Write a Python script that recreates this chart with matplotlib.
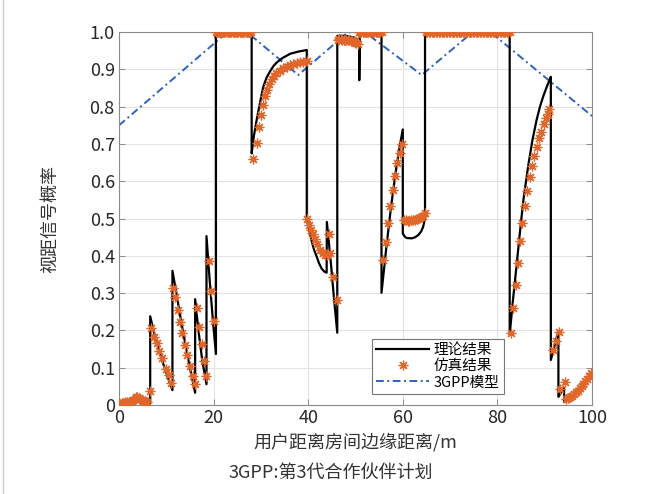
import matplotlib
matplotlib.use("Agg")
import matplotlib.pyplot as plt
from matplotlib.lines import Line2D

plt.rcParams['font.family'] = ['Noto Sans CJK SC', 'DejaVu Sans']
plt.rcParams['font.weight'] = 'light'

# ---------------- data ----------------
theory_x = [0, 1, 2, 3, 3.5, 3.8, 4.2, 5, 6, 6.6, 6.6,
            7.5, 8.5, 9.5, 10.5, 11.3, 11.3,
            12, 13, 14, 15, 16.1, 16.1,
            16.8, 17.6, 18.5, 18.5,
            19.2, 19.9, 20.5, 20.5, 28.05, 28.05,
            28.5, 29.1, 29.8, 30.5, 31.2, 31.9, 32.6, 33.3, 34.5, 36.2, 38, 39.7, 39.7,
            40.2, 40.7, 41.2, 41.8, 42.3, 42.85, 43.4, 43.9, 43.95,
            44.8, 45.5, 46.15, 46.15, 48, 49.9, 50.4, 50.8, 50.8, 50.9, 55.5, 55.5,
            56.5, 57.5, 58.5, 59.3, 60.0, 60.0,
            60.4, 60.8, 61.9, 62.6, 63.3, 63.9, 64.3, 64.6, 64.7, 64.7, 82.6, 82.6,
            83.2, 84.1, 84.9, 85.5, 86.5, 87.4, 88.3, 89.0, 89.7, 90.4, 90.9, 91.3, 91.3,
            92.1, 92.9, 92.9, 93.5, 94.1, 94.1, 95.3, 96.8, 98.2, 100]
theory_y = [0.003, 0.004, 0.006, 0.012, 0.02, 0.025, 0.02, 0.012, 0.006, 0.005, 0.238,
            0.19, 0.145, 0.105, 0.068, 0.04, 0.36,
            0.31, 0.235, 0.165, 0.10, 0.033, 0.284,
            0.2, 0.12, 0.056, 0.453,
            0.33, 0.22, 0.137, 1.0, 1.0, 0.675,
            0.72, 0.764, 0.81, 0.853, 0.878, 0.894, 0.908, 0.918, 0.93, 0.942, 0.948, 0.952, 0.5,
            0.47, 0.442, 0.418, 0.398, 0.38, 0.366, 0.358, 0.355, 0.491,
            0.38, 0.28, 0.194, 0.99, 0.99, 0.985, 0.978, 0.97, 0.871, 1.0, 1.0, 0.301,
            0.42, 0.53, 0.625, 0.69, 0.739, 0.46,
            0.452, 0.448, 0.447, 0.45, 0.456, 0.466, 0.478, 0.495, 0.51, 1.0, 1.0, 0.188,
            0.27, 0.38, 0.48, 0.55, 0.64, 0.71, 0.765, 0.8, 0.828, 0.852, 0.868, 0.88, 0.121,
            0.16, 0.199, 0.022, 0.034, 0.045, 0.008, 0.018, 0.033, 0.054, 0.09]

sim_x = [0, 0.3, 0.6, 0.9, 1.2, 1.5, 1.8, 2.1, 2.4, 2.7, 3.0, 3.3, 3.6, 3.9, 4.2, 4.5, 4.8, 5.1, 5.4, 5.7, 6.0, 6.55,
         6.77, 7.47, 7.97, 8.53, 9.02, 9.87, 10.5, 11.1,
         11.35, 11.9, 12.5, 12.96, 13.4, 13.95, 14.45, 15.0, 15.6, 16.1,
         16.4, 17.0, 17.5, 18.0, 18.5,
         18.96, 19.45, 20.1,
         20.5, 20.75, 21.0, 21.25, 21.5, 21.75, 22.0, 22.25, 22.5, 22.75, 23.0, 23.25, 23.5, 23.75,
         24.0, 24.25, 24.5, 24.75, 25.0, 25.25, 25.5, 25.75, 26.0, 26.25, 26.5, 26.75, 27.0, 27.25,
         27.5, 27.75, 28.0,
         28.4, 29.1, 29.6, 29.95, 30.5, 30.9, 31.35, 31.8, 32.3, 32.8, 33.3, 34.0, 34.7, 35.45,
         36.2, 36.85, 37.6, 38.3, 39.0, 39.7,
         39.8, 40.2, 40.6, 41.0, 41.4, 41.9, 42.5, 43.05, 43.55, 44.0, 44.6, 44.45, 45.2, 46.0,
         46.3, 46.6, 46.9, 47.2, 47.5, 47.8, 48.1, 48.4, 48.7, 49.0, 49.3, 49.6, 49.9, 50.2, 50.5,
         50.75, 51.0, 51.25, 51.5, 51.75, 52.0, 52.25, 52.5, 52.75, 53.0, 53.25, 53.5, 53.75,
         54.0, 54.25, 54.5, 54.75, 55.0, 55.25, 55.5,
         55.9, 56.4, 56.95, 57.4, 57.9, 58.35, 58.8, 59.4, 59.9,
         60.2, 60.6, 61.0, 61.4, 61.8, 62.2, 62.6, 63.0, 63.4, 63.8, 64.2, 64.6,
         64.9, 65.2, 65.5, 65.8, 66.1, 66.4, 66.7, 67.0, 67.3, 67.6, 67.9, 68.2, 68.5, 68.8,
         69.1, 69.4, 69.7, 70.0, 70.3, 70.6, 70.9, 71.2, 71.5, 71.8, 72.1, 72.4, 72.7, 73.0,
         73.3, 73.6, 73.9, 74.2, 74.5, 74.8, 75.1, 75.4, 75.7, 76.0, 76.3, 76.6, 76.9, 77.2,
         77.5, 77.8, 78.1, 78.4, 78.7, 79.0, 79.3, 79.6, 79.9, 80.2, 80.5, 80.8, 81.1, 81.4,
         81.7, 82.0, 82.3, 82.6,
         82.8, 83.2, 83.9, 84.4, 84.85, 85.3, 85.85, 86.3, 86.9, 87.4, 87.8, 88.3, 88.9, 89.3,
         89.85, 90.2, 90.6, 91.0,
         91.7, 92.4, 93.0, 93.2, 94.3,
         94.6, 95.0, 95.4, 95.8, 96.2, 96.6, 97.0, 97.4, 97.8, 98.2, 98.6, 99.0, 99.4, 99.8]
sim_y = [0.005, 0.004, 0.006, 0.005, 0.007, 0.006, 0.008, 0.007, 0.009, 0.011, 0.013, 0.017, 0.021, 0.022,
         0.019, 0.017, 0.014, 0.012, 0.010, 0.009, 0.008, 0.038,
         0.207, 0.183, 0.167, 0.146, 0.125, 0.098, 0.08, 0.06,
         0.315, 0.289, 0.256, 0.223, 0.192, 0.161, 0.134, 0.105, 0.079, 0.056,
         0.259, 0.21, 0.164, 0.119, 0.078,
         0.386, 0.306, 0.226,
         1.0, 1.0, 1.0, 1.0, 1.0, 1.0, 1.0, 1.0, 1.0, 1.0, 1.0, 1.0, 1.0, 1.0,
         1.0, 1.0, 1.0, 1.0, 1.0, 1.0, 1.0, 1.0, 1.0, 1.0, 1.0, 1.0, 1.0, 1.0,
         1.0, 1.0, 1.0,
         0.659, 0.703, 0.746, 0.779, 0.804, 0.828, 0.846, 0.862, 0.873, 0.882, 0.891, 0.897, 0.903, 0.907,
         0.911, 0.914, 0.917, 0.919, 0.921, 0.923,
         0.498, 0.483, 0.469, 0.458, 0.444, 0.432, 0.417, 0.407, 0.402, 0.402, 0.407, 0.46, 0.344, 0.283,
         0.98, 0.981, 0.981, 0.98, 0.98, 0.979, 0.979, 0.978, 0.978, 0.977, 0.976, 0.975, 0.974, 0.972, 0.968,
         1.0, 1.0, 1.0, 1.0, 1.0, 1.0, 1.0, 1.0, 1.0, 1.0, 1.0, 1.0, 1.0,
         1.0, 1.0, 1.0, 1.0, 1.0, 1.0, 1.0,
         0.389, 0.438, 0.487, 0.534, 0.578, 0.614, 0.65, 0.676, 0.701,
         0.497, 0.495, 0.494, 0.494, 0.495, 0.496, 0.497, 0.499, 0.501, 0.504, 0.508, 0.514,
         1.0, 1.0, 1.0, 1.0, 1.0, 1.0, 1.0, 1.0, 1.0, 1.0, 1.0, 1.0, 1.0, 1.0,
         1.0, 1.0, 1.0, 1.0, 1.0, 1.0, 1.0, 1.0, 1.0, 1.0, 1.0, 1.0, 1.0, 1.0,
         1.0, 1.0, 1.0, 1.0, 1.0, 1.0, 1.0, 1.0, 1.0, 1.0, 1.0, 1.0, 1.0, 1.0,
         1.0, 1.0, 1.0, 1.0, 1.0, 1.0, 1.0, 1.0, 1.0, 1.0, 1.0, 1.0, 1.0, 1.0,
         1.0, 1.0, 1.0, 1.0,
         0.192, 0.259, 0.322, 0.381, 0.44, 0.489, 0.535, 0.575, 0.612, 0.642, 0.668, 0.691, 0.715, 0.733,
         0.753, 0.769, 0.78, 0.793,
         0.149, 0.172, 0.197, 0.042, 0.062,
         0.015, 0.018, 0.021, 0.025, 0.029, 0.034, 0.039, 0.045, 0.051, 0.057, 0.064, 0.071, 0.078, 0.085]

gpp_x = [0, 22.0, 23.0, 27.0, 28.0, 37.9, 48.0, 49.0, 52.0, 53.0, 64.0, 74.3, 75.5, 78.5, 79.5, 100]
gpp_y = [0.75, 0.99, 1.0, 1.0, 0.99, 0.885, 0.995, 1.0, 1.0, 0.99, 0.885, 0.995, 1.0, 1.0, 0.99, 0.775]

x_ticks = [0, 20, 40, 60, 80, 100]
y_ticks = [0, 0.1, 0.2, 0.3, 0.4, 0.5, 0.6, 0.7, 0.8, 0.9, 1.0]
y_ticklabels = ['0', '0.1', '0.2', '0.3', '0.4', '0.5', '0.6', '0.7', '0.8', '0.9', '1.0']

labels = ['理论结果', '仿真结果', '3GPP模型']
xlabel = '用户距离房间边缘距离/m'
ylabel = '视距信号概率'
note = '3GPP:第3代合作伙伴计划'

# ---------------- figure ----------------
fig = plt.figure(figsize=(6.61, 4.94), dpi=100)
ax = fig.add_axes([0.18, 0.18, 0.7156, 0.755])

ax.plot(theory_x, theory_y, color='black', lw=1.6, label=labels[0], zorder=3)
ax.plot(sim_x, sim_y, linestyle='none', marker=(8, 2, 0), markersize=7, mew=0.9,
        color='#e0662a', label=labels[1], zorder=4)
ax.plot(gpp_x, gpp_y, color='#2e62c0', lw=1.4, linestyle=(0, (4, 1.8, 1, 1.8)), label=labels[2], zorder=2)

ax.set_xlim(0, 100)
ax.set_ylim(0, 1.0)
ax.set_xticks(x_ticks)
ax.set_yticks(y_ticks)
ax.set_yticklabels(y_ticklabels)
ax.grid(True, color='#e3e3e3', lw=0.8)
ax.set_axisbelow(True)
for s in ax.spines.values():
    s.set_color('#8a8a8a')
    s.set_linewidth(0.8)
ax.tick_params(direction='in', length=4, width=0.7, color='#8a8a8a', labelsize=13,
               labelcolor='#262626', top=True, right=True, pad=3)

ax.set_xlabel(xlabel, fontsize=13, color='#333333', labelpad=4)
ax.set_ylabel(ylabel, fontsize=13, color='#333333', labelpad=22)
fig.text(0.5, 0.043, note, ha='center', va='center', fontsize=13, color='#333333')

leg = ax.legend(loc='lower left', bbox_to_anchor=(0.535, 0.03), fontsize=10.5, frameon=True,
                fancybox=False, edgecolor='#777777', framealpha=1, handlelength=3.6,
                borderpad=0.3, labelspacing=0.15, handletextpad=0.3, borderaxespad=0)
leg.get_frame().set_linewidth(0.8)

fig.add_artist(Line2D([0.005, 0.005], [0, 1], transform=fig.transFigure, color='#cccccc', lw=1))

fig.savefig('out.png', dpi=100)
